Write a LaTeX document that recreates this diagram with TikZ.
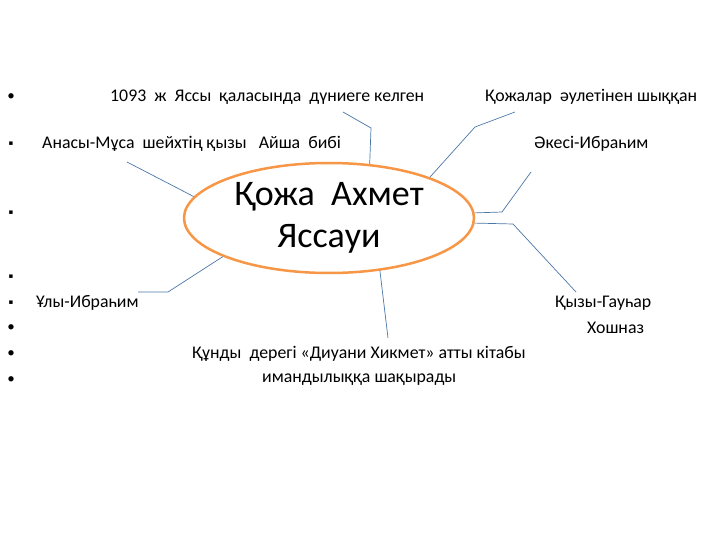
\documentclass[tikz,border=0pt]{standalone}
\usepackage{fontspec}
\setmainfont{Carlito}
\newfontfamily\dv{DejaVu Sans}
\usetikzlibrary{shapes.geometric}
\definecolor{conn}{HTML}{4A76A8}
\definecolor{orng}{HTML}{F79646}
\begin{document}
\begin{tikzpicture}[x=1pt,y=-1pt,
  txt/.style={anchor=west,inner sep=0pt,font=\fontsize{17.8}{20}\selectfont},
  rb/.style={inner sep=0pt,font=\fontsize{15}{16}\selectfont},
  sb/.style={inner sep=0pt,font=\dv\fontsize{7}{8}\selectfont},
  link/.style={draw=conn,line width=0.7pt},
  main/.style={ellipse,draw=orng,line width=2.5pt,minimum width=290pt,minimum height=110pt,inner sep=0pt,align=center,font=\fontsize{36}{42}\selectfont}]
\useasboundingbox (0,0) rectangle (720,540);
% bullets
\node[rb] (b1) at (11,97) {•};
\node[sb] (b2) at (11,144) {▪};
\node[sb] (b3) at (11,213) {▪};
\node[sb] (b4) at (11,277) {▪};
\node[sb] (b5) at (11,303) {▪};
\node[rb] (b6) at (11,328) {•};
\node[rb] (b7) at (11,354) {•};
\node[rb] (b8) at (11,380) {•};
% texts
\node[txt] (t1) at (110,97) {1093~ ж~ Яссы~ қаласында~ дүниеге келген};
\node[txt] (t2) at (485,97) {Қожалар~ әулетінен шыққан};
\node[txt] (t3) at (42,144) {Анасы-Мұса~ шейхтің қызы~~ Айша~ бибі};
\node[txt] (t4) at (534,144) {Әкесі-Ибраһим};
\node[txt] (t5) at (36,303) {Ұлы-Ибраһим};
\node[txt] (t6) at (555,303) {Қызы-Гауһар};
\node[txt] (t7) at (587,328) {Хошназ};
\node[txt] (t8) at (192,354) {Құнды~ дерегі «Диуани Хикмет» атты кітабы};
\node[txt] (t9) at (262,380) {имандылыққа шақырады};
% centre
\node[main] (E) at (329,218) {Қожа~ Ахмет\\Яссауи};
% connector ends
\coordinate (c1a) at (371,128); \coordinate (c1b) at (343,112);
\coordinate (c2a) at (475,127); \coordinate (c2b) at (515,112);
\coordinate (c3a) at (502,212); \coordinate (c3b) at (531,172);
\coordinate (c4a) at (513,224); \coordinate (c4b) at (576,292);
\coordinate (c5b) at (388,338);
\coordinate (c6b) at (127,162);
\coordinate (c7a) at (168,292); \coordinate (c7b) at (138,292);
\draw[link] (E.53) -- (c1a) -- (c1b);
\draw[link] (E.22) -- (c2a) -- (c2b);
\draw[link] (E.2.4) -- (c3a) -- (c3b);
\draw[link] (E.-2.4) -- (c4a) -- (c4b);
\draw[link] (E.-46) -- (c5b);
\draw[link] (E.171) -- (c6b);
\draw[link] (E.200) -- (c7a) -- (c7b);
\end{tikzpicture}
\end{document}
